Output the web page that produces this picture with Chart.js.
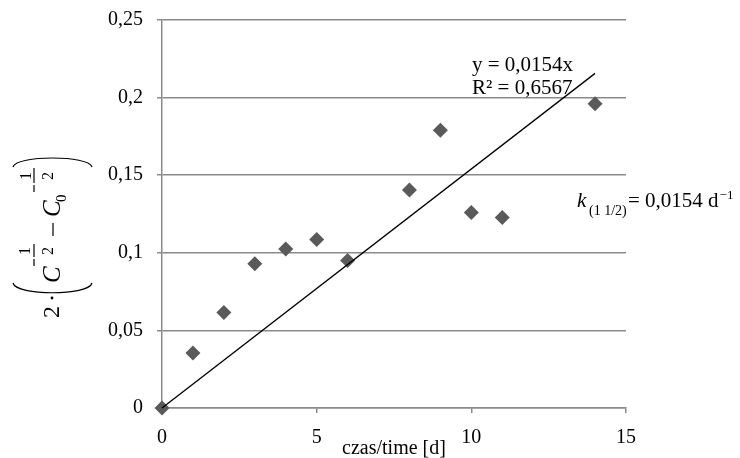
<!DOCTYPE html>
<html><head><meta charset="utf-8">
<script src="https://cdn.jsdelivr.net/npm/chart.js@4.4.0/dist/chart.umd.min.js"></script>
<style>html,body{margin:0;padding:0;background:#fff}#wrap{width:740px;height:458px;position:relative}</style>
</head><body><div id="wrap"><canvas id="c" width="740" height="458"></canvas></div>
<script>
// ---- data ----
const days = [0, 1, 2, 3, 4, 5, 6, 8, 9, 10, 11, 14];
const values = [0, 0.0355, 0.0615, 0.093, 0.1025, 0.1085, 0.095, 0.1405, 0.179, 0.126, 0.1228, 0.196];
const trendX = [0, 14];
const trendY = [0, 0.2156];
const xTickValues = [0, 5, 10, 15];
const yTickLabels = ['0', '0,05', '0,1', '0,15', '0,2', '0,25'];
const equationText = 'y = 0,0154x';
const r2Text = 'R² = 0,6567';
const kLabel = 'k';
const kSub = '(1 1/2)';
const kValue = '= 0,0154 d';
const kSup = '−1';
const xTitle = 'czas/time [d]';

const SERIF = '"Liberation Serif", "Times New Roman", serif';
const GRID = '#8a8a8a';

const annotate = {
  id: 'annotate',
  afterDraw(chart) {
    const ctx = chart.ctx;
    ctx.save();
    ctx.fillStyle = '#000';
    ctx.textBaseline = 'alphabetic';
    // equation + R2
    ctx.font = '21px ' + SERIF;
    ctx.textAlign = 'left';
    ctx.fillText(equationText, 472, 71);
    ctx.fillText(r2Text, 472, 94);
    // k annotation
    ctx.font = 'italic 21px ' + SERIF;
    ctx.fillText(kLabel, 577, 207);
    ctx.font = '14px ' + SERIF;
    ctx.fillText(kSub, 589, 215);
    ctx.font = '21px ' + SERIF;
    ctx.fillText(kValue, 628, 207);
    const w = ctx.measureText(kValue).width;
    ctx.font = '13px ' + SERIF;
    ctx.fillText(kSup, 628 + w + 1, 199);
    // x title
    ctx.font = '20px ' + SERIF;
    ctx.textAlign = 'center';
    ctx.fillText(xTitle, 394, 454);

    // y title (rotated math expression)
    ctx.rotate(-Math.PI / 2);
    ctx.textAlign = 'left';
    ctx.strokeStyle = '#000';
    ctx.lineWidth = 1.2;
    // local: u = -screenY, v = screenX
    ctx.font = '24px ' + SERIF;
    ctx.fillText('2', -318, 59);
    ctx.beginPath(); ctx.arc(-298, 52, 1.4, 0, Math.PI * 2); ctx.fill();
    // opening bracket
    ctx.beginPath();
    ctx.moveTo(-283, 13); ctx.bezierCurveTo(-296, 16, -296, 89, -283, 92); ctx.stroke();
    // C
    ctx.font = 'italic 25px ' + SERIF;
    ctx.fillText('C', -283, 60);
    // superscript -1/2
    ctx.beginPath(); ctx.moveTo(-266, 34); ctx.lineTo(-259, 34); ctx.stroke();
    ctx.beginPath(); ctx.moveTo(-257, 34); ctx.lineTo(-244, 34); ctx.stroke();
    ctx.font = '16px ' + SERIF;
    ctx.textAlign = 'center';
    ctx.fillText('1', -251, 30);
    ctx.fillText('2', -251, 53);
    // minus
    ctx.beginPath(); ctx.moveTo(-236, 53); ctx.lineTo(-223, 53); ctx.stroke();
    // C0
    ctx.textAlign = 'left';
    ctx.font = 'italic 25px ' + SERIF;
    ctx.fillText('C', -217, 60);
    ctx.font = '15px ' + SERIF;
    ctx.fillText('0', -202, 66);
    ctx.beginPath(); ctx.moveTo(-192, 34); ctx.lineTo(-185, 34); ctx.stroke();
    ctx.beginPath(); ctx.moveTo(-183, 34); ctx.lineTo(-168, 34); ctx.stroke();
    ctx.font = '16px ' + SERIF;
    ctx.textAlign = 'center';
    ctx.fillText('1', -176, 31);
    ctx.fillText('2', -176, 53);
    // closing bracket
    ctx.beginPath();
    ctx.moveTo(-167, 13); ctx.bezierCurveTo(-155, 16, -155, 89, -167, 92); ctx.stroke();
    ctx.restore();
  }
};

new Chart(document.getElementById('c'), {
  type: 'scatter',
  data: {
    datasets: [
      {
        type: 'line',
        data: trendX.map((x, i) => ({ x, y: trendY[i] })),
        borderColor: '#000',
        borderWidth: 1.3,
        pointRadius: 0,
        fill: false,
        clip: false,
        order: 0
      },
      {
        data: days.map((x, i) => ({ x, y: values[i] })),
        pointStyle: 'rectRot',
        pointRadius: 7.5,
        backgroundColor: '#5a5a5a',
        borderWidth: 0,
        clip: false,
        order: 1
      }
    ]
  },
  options: {
    responsive: false,
    devicePixelRatio: 1,
    animation: false,
    layout: { padding: { left: 0, right: 114, top: 20, bottom: 0 } },
    plugins: { legend: { display: false }, tooltip: { enabled: false } },
    scales: {
      x: {
        type: 'linear', min: 0, max: 15,
        afterFit(s) { s.height = 50; s.paddingLeft = 0; s.paddingRight = 0; },
        afterBuildTicks(s) { s.ticks = xTickValues.map(v => ({ value: v })); },
        ticks: { font: { family: SERIF, size: 20 }, color: '#000', padding: 13,
          callback: v => String(v) },
        grid: { drawOnChartArea: false, drawTicks: true, tickLength: 5, tickColor: GRID, lineWidth: 1.5 },
        border: { color: GRID, width: 1.5 }
      },
      y: {
        min: 0, max: 0.25,
        afterFit(s) { s.width = 162; s.paddingTop = 0; s.paddingBottom = 0; },
        ticks: { stepSize: 0.05, font: { family: SERIF, size: 20 }, color: '#000', padding: 14,
          callback: v => yTickLabels[Math.round(v / 0.05)] },
        grid: { color: GRID, lineWidth: 1.5, tickLength: 5, tickColor: GRID },
        border: { color: GRID, width: 1.5 }
      }
    }
  },
  plugins: [annotate]
});
</script>
</body></html>
